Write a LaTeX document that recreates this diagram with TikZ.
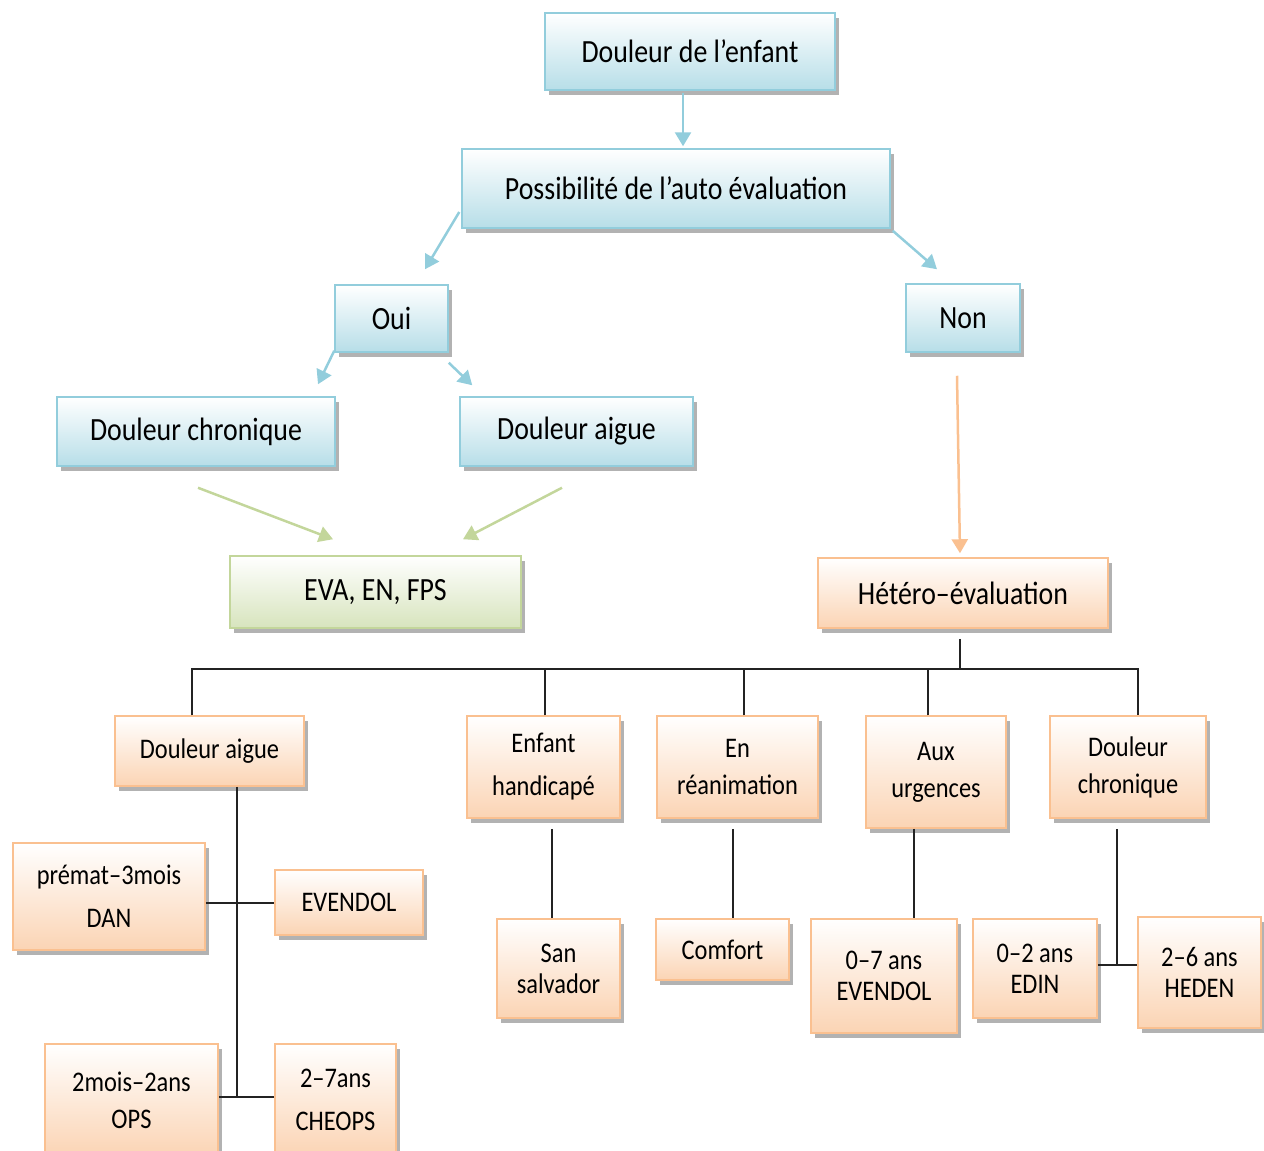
\documentclass[tikz,border=0pt]{standalone}
\usepackage{fontspec}
\setmainfont[FakeStretch=0.86]{Carlito}
\usetikzlibrary{arrows.meta,shadows,calc}

\definecolor{blueline}{RGB}{146,205,220}
\definecolor{bluefill}{RGB}{183,222,232}
\definecolor{orangeline}{RGB}{250,192,144}
\definecolor{orangefill}{RGB}{251,212,180}
\definecolor{greenline}{RGB}{195,214,155}
\definecolor{greenfill}{RGB}{215,228,189}
\definecolor{linkgray}{RGB}{35,35,35}

\tikzset{
  box/.style={line width=0.75pt, inner sep=2pt, align=center,
    drop shadow={shadow xshift=2pt, shadow yshift=-2.5pt, opacity=0.5, fill=black!60}},
  bluebox/.style={box, draw=blueline, top color=white, bottom color=bluefill,
    font=\fontsize{16.2}{18}\selectfont},
  greenbox/.style={box, draw=greenline, top color=white, bottom color=greenfill,
    font=\fontsize{16.2}{18}\selectfont},
  orangebox/.style={box, draw=orangeline, top color=white, bottom color=orangefill,
    font=\fontsize{16.2}{18}\selectfont},
  smallbox/.style={orangebox, font=\fontsize{14.2}{18.5}\selectfont},
  link/.style={draw=linkgray, line width=1pt},
  barrow/.style={draw=blueline, line width=1.25pt, -{Triangle[length=7pt,width=8pt]}},
  garrow/.style={draw=greenline, line width=1.25pt, -{Triangle[length=7pt,width=8pt]}},
  oarrow/.style={draw=orangeline, line width=1.25pt, -{Triangle[length=7pt,width=8pt]}},
}

\begin{document}
\begin{tikzpicture}[x=0.5pt, y=-0.5pt]
    \useasboundingbox (0,0) rectangle (1264,1151);
    \clip (0,0) rectangle (1264,1151);

    % Auto-evaluation side
    \node[bluebox, minimum width=145pt, minimum height=38.5pt] (enfant) at (690,51.5) {Douleur de l’enfant};
    \node[bluebox, minimum width=214pt, minimum height=39.5pt] (poss) at (676,188.5) {Possibilité de l’auto évaluation};
    \node[bluebox, minimum width=56.5pt, minimum height=33.5pt] (oui) at (391.5,318.5) {Oui};
    \node[bluebox, minimum width=57pt, minimum height=34pt] (non) at (963,318) {Non};
    \node[bluebox, minimum width=139pt, minimum height=34.5pt] (dchron) at (196,431.5) {Douleur chronique};
    \node[bluebox, minimum width=116.5pt, minimum height=34.5pt] (daigue) at (576.5,431.5) {Douleur aigue};
    \node[greenbox, minimum width=145.5pt, minimum height=36pt] (eva) at (375.5,592) {EVA, EN, FPS};
    \node[orangebox, minimum width=145pt, minimum height=35pt] (hetero) at (963,593) {Hétéro–évaluation};

    % Hetero-evaluation branches
    \node[smallbox, minimum width=94.5pt, minimum height=35pt] (aigue) at (209.5,751) {Douleur aigue};
    \node[smallbox, minimum width=76.5pt, minimum height=51pt] (handi) at (543.5,767) {\strut Enfant\\[3pt]handicapé\strut};
    \node[smallbox, minimum width=80.5pt, minimum height=51pt] (reanim) at (737.5,767) {En\\réanimation};
    \node[smallbox, minimum width=70pt, minimum height=56pt] (urg) at (936,772) {Aux\\urgences};
    \node[smallbox, minimum width=78pt, minimum height=51pt] (chron) at (1128,767) {Douleur\\chronique};

    % Leaves
    \node[smallbox, minimum width=96pt, minimum height=53.5pt] (premat) at (109,896.5) {prémat–3mois\\[3pt]DAN};
    \node[smallbox, minimum width=74pt, minimum height=32.5pt] (evendol) at (349,902.5) {EVENDOL};
    \node[smallbox, minimum width=86.5pt, minimum height=56pt] (ops) at (131.5,1100) {2mois–2ans\\OPS};
    \node[smallbox, minimum width=60.5pt, minimum height=56pt] (cheops) at (335.5,1100) {2–7ans\\[3pt]CHEOPS};
    \node[smallbox, minimum width=61.5pt, minimum height=49.5pt] (salvador) at (558.5,968.5) {San\\[-3pt]salvador};
    \node[smallbox, minimum width=66.5pt, minimum height=30.5pt] (comfort) at (722.5,949.5) {Comfort};
    \node[smallbox, minimum width=73pt, minimum height=57pt] (evendolb) at (884,976) {0–7 ans\\[-3pt]EVENDOL};
    \node[smallbox, minimum width=62pt, minimum height=49.5pt] (edin) at (1035,968.5) {0–2 ans\\[-3pt]EDIN};
    \node[smallbox, minimum width=61.5pt, minimum height=55.5pt] (heden) at (1199.5,972.5) {2–6 ans\\[-3pt]HEDEN};

    % Arrows
    \draw[barrow] ($(enfant.south)+(-7,2)$) -- ($(poss.north)+(7,-2)$);
    \draw[barrow] ($(poss.west)+(-2,23.5)$) -- ($(oui.north)+(33.5,-15)$);
    \draw[barrow] ($(poss.south east)+(2,2)$) -- ($(non.north)+(-26,-14)$);
    \draw[barrow] ($(oui.south west)+(0,-2)$) -- ($(dchron.north)+(122,-12)$);
    \draw[barrow] ($(oui.south east)+(0,10)$) -- ($(daigue.north west)+(13,-11)$);
    \draw[garrow] ($(dchron.south)+(2,21)$) -- ($(eva.north)+(-42.5,-16)$);
    \draw[garrow] ($(daigue.south)+(-14.5,21)$) -- ($(eva.north)+(87.5,-16)$);
    \draw[oarrow] ($(non.south)+(-6,23)$) -- ($(hetero.north)+(-3,-4)$);

    % Tree lines
    \coordinate (bar) at (960,670);
    \draw[link] ($(hetero.south)+(-3,10)$) -- (bar);
    \draw[link] ($(aigue.north)+(-17.5,0)$) |- ($(chron.north)+(10,-46)$) -- ($(chron.north)+(10,0)$);
    \foreach \n/\dx in {handi/1.5, reanim/6.5, urg/-8}
        \draw[link] ($(\n.north)+(\dx,0)$) -- ($(\n.north)+(\dx,-46)$);

    \draw[link] ($(aigue.south)+(27.5,0)$) -- ($(aigue.south)+(27.5,311)$);
    \draw[link] (premat.east |- evendol.west) -- (evendol.west);
    \draw[link] ($(ops.east)+(0,-3)$) -- ($(cheops.west)+(0,-3)$);
    \draw[link] ($(handi.south)+(8.5,10)$) -- ($(salvador.north)+(-6.5,0)$);
    \draw[link] ($(reanim.south)+(-4.5,10)$) -- ($(comfort.north)+(10.5,0)$);
    \draw[link] ($(urg.south)+(-22,0)$) -- ($(evendolb.north)+(30,0)$);
    \draw[link] ($(chron.south)+(-11,10)$) -- ($(chron.south)+(-11,147)$);
    \draw[link] ($(edin.east)+(0,-3.5)$) -- ($(heden.west)+(0,-7.5)$);
\end{tikzpicture}
\end{document}
